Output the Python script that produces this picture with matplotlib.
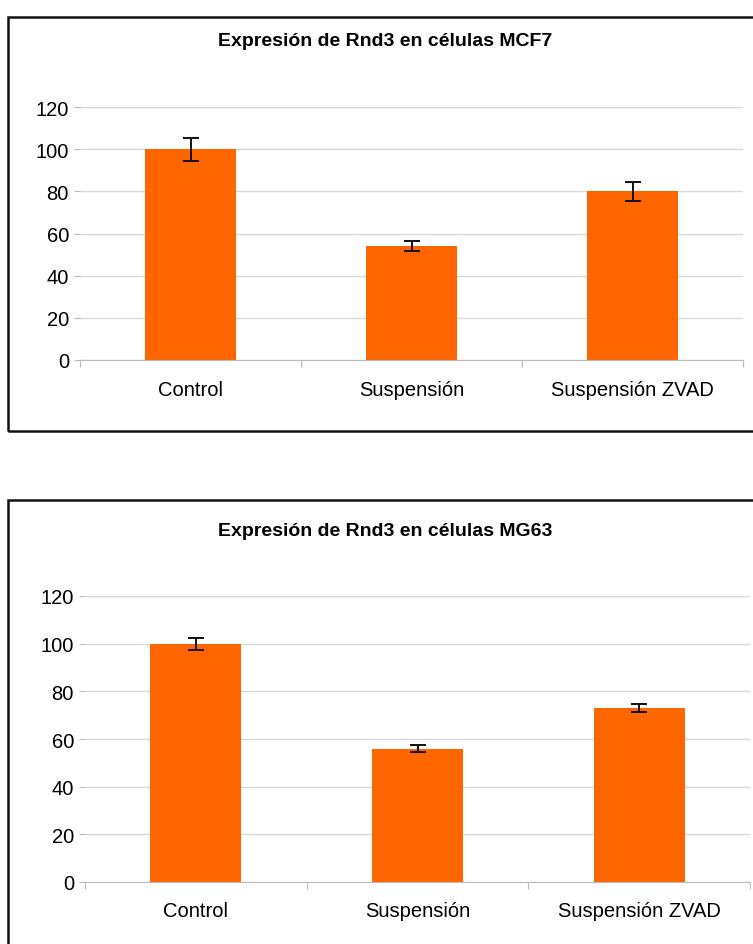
import matplotlib
matplotlib.use("Agg")
import matplotlib.pyplot as plt
from matplotlib.patches import Rectangle

plt.rcParams["font.family"] = ["Liberation Sans", "DejaVu Sans"]

# ─── Datos ────────────────────────────────────────────────────────
categorias = ["Control", "Suspensión", "Suspensión ZVAD"]

titulo_mcf7 = "Expresión de Rnd3 en células MCF7"
valores_mcf7 = [100, 54, 80]
errores_mcf7 = [5.5, 2.5, 4.5]

titulo_mg63 = "Expresión de Rnd3 en células MG63"
valores_mg63 = [100, 56, 73]
errores_mg63 = [2.5, 1.5, 1.5]

yticks = [0, 20, 40, 60, 80, 100, 120]

W, H = 753, 945
fig = plt.figure(figsize=(W / 100, H / 100), dpi=100)


def px_axes(x0, x1, y_top, y_bot):
    return fig.add_axes([x0 / W, 1 - y_bot / H, (x1 - x0) / W, (y_bot - y_top) / H])


def marco(x0, y0, x1, y1):
    fig.patches.append(Rectangle((x0 / W, 1 - y1 / H), (x1 - x0) / W, (y1 - y0) / H,
                                 transform=fig.transFigure, fill=False,
                                 edgecolor="#111111", linewidth=1.8, clip_on=False))


def panel(ax, titulo, valores, errores, y_titulo, y_label_off):
    x = range(len(categorias))
    ax.bar(x, valores, width=0.41, color="#FF6600", zorder=2)
    ax.errorbar(x, valores, yerr=errores, fmt="none", ecolor="#111111",
                elinewidth=1.4, capsize=6, capthick=1.4, zorder=3)
    ax.set_xlim(-0.5, 2.5)
    ax.set_ylim(0, 120)
    ax.set_yticks(yticks)
    ax.yaxis.grid(True, color="#d9d9d9", linewidth=1, zorder=0)
    for s in ("top", "right", "left"):
        ax.spines[s].set_visible(False)
    ax.spines["bottom"].set_color("#bbbbbb")
    ax.tick_params(axis="y", length=4, color="#bbbbbb", labelsize=14.5, pad=4)
    ax.set_xticks([-0.5, 0.5, 1.5, 2.5])
    ax.set_xticklabels([])
    ax.tick_params(axis="x", length=5, color="#bbbbbb")
    for i, c in enumerate(categorias):
        ax.annotate(c, (i, 0), xycoords=("data", "axes fraction"),
                    xytext=(0, -y_label_off), textcoords="offset pixels",
                    ha="center", va="center", fontsize=14.5)
    fig.text(0.5 + 9 / W, 1 - y_titulo / H, titulo, ha="center", va="center",
             fontsize=14, fontweight="bold")


marco(8, 18, 760, 432)
ax1 = px_axes(80, 743, 108, 361)
panel(ax1, titulo_mcf7, valores_mcf7, errores_mcf7, 41, 30)

marco(8, 501, 760, 960)
ax2 = px_axes(85, 750, 597, 883)
panel(ax2, titulo_mg63, valores_mg63, errores_mg63, 531, 29)

fig.savefig("out.png", dpi=100)
